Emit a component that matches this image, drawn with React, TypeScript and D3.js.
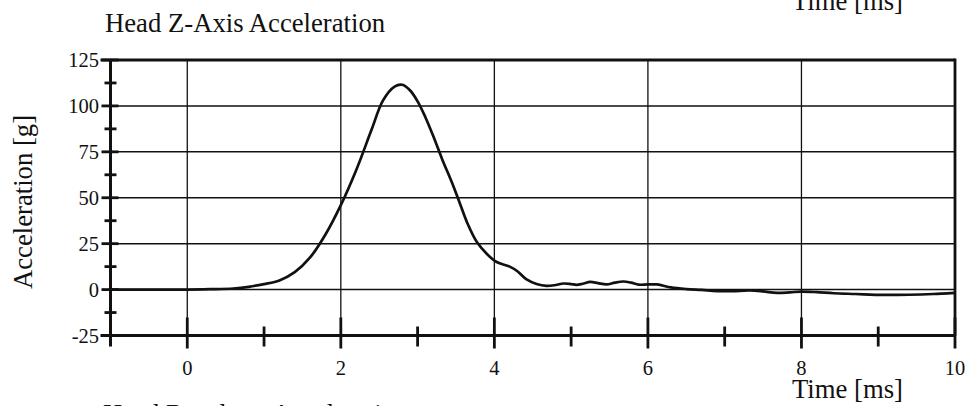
import React from "react";
import * as d3 from "d3";

const times = [-1, -0.5, 0, 0.3, 0.6, 0.8, 1.0, 1.2, 1.4, 1.6, 1.8, 2.0, 2.2, 2.4, 2.55, 2.7, 2.8, 2.9, 3.0, 3.1, 3.2, 3.32, 3.45, 3.55, 3.65, 3.77, 3.9, 4.03, 4.2, 4.3, 4.42, 4.55, 4.68, 4.8, 4.9, 5.0, 5.07, 5.15, 5.25, 5.35, 5.46, 5.57, 5.68, 5.78, 5.88, 6.0, 6.12, 6.3, 6.5, 6.7, 6.9, 7.1, 7.33, 7.5, 7.68, 7.85, 8.0, 8.2, 8.42, 8.7, 9.07, 9.4, 9.72, 10];
const accel = [0, 0, 0, 0.2, 0.6, 1.5, 3, 5, 9.5, 17.5, 30, 46, 65, 87, 103, 110.5, 111.5, 108.5, 102.5, 94, 84, 71, 58, 47, 36, 26, 19.5, 15, 12.5, 10, 5.5, 3, 2, 2.5, 3.3, 3, 2.6, 3.2, 4.2, 3.5, 2.8, 3.8, 4.4, 3.8, 2.7, 2.8, 2.8, 1.2, 0.3, -0.2, -0.8, -0.8, -0.5, -1, -1.8, -1.5, -1.1, -1.4, -2, -2.4, -2.9, -2.8, -2.4, -1.8];

const yTicks = [-25, 0, 25, 50, 75, 100, 125];
const yMinor = [-12.5, 12.5, 37.5, 62.5, 87.5, 112.5];
const yGrid = [0, 25, 50, 75, 100];
const xMajor = [0, 2, 4, 6, 8, 10];
const xMinor = [1, 3, 5, 7, 9];
const xGrid = [0, 2, 4, 6, 8];

const title = "Head Z-Axis Acceleration";
const yLabel = "Acceleration [g]";
const xLabel = "Time [ms]";
const nextTitle = "Head Resultant Acceleration";

const font = "Liberation Serif";

export default function App() {
  const x = d3.scaleLinear().domain([-1, 10]).range([110.5, 955]);
  const y = d3.scaleLinear().domain([-25, 125]).range([335.5, 60]);
  const pts = times.map((t, i) => [t, accel[i]] as [number, number]);
  const line = d3
    .line<[number, number]>()
    .x((d) => x(d[0]))
    .y((d) => y(d[1]))
    .curve(d3.curveCatmullRom.alpha(0.5));
  const ink = "#111";
  return (
    <svg
      width={965}
      height={406}
      style={{ position: "fixed", left: 0, top: 0, background: "#fff" }}
    >
      <rect x={0} y={0} width={965} height={406} fill="#fff" />
      {/* clipped x label from previous chart */}
      <text x={792} y={10} fontSize={26.7} fill={ink} fontFamily={font}>{xLabel}</text>
      <text x={105} y={32} fontSize={26.7} fill={ink} fontFamily={font}>{title}</text>

      {/* grid */}
      {yGrid.map((v) => (
        <line key={"hg" + v} x1={x(-1)} x2={x(10)} y1={y(v)} y2={y(v)} stroke={ink} strokeWidth={1.5} />
      ))}
      {xGrid.map((v) => (
        <line key={"vg" + v} x1={x(v)} x2={x(v)} y1={y(125)} y2={y(-25)} stroke={ink} strokeWidth={1.3} />
      ))}

      {/* frame */}
      <line x1={x(-1) - 10} x2={x(10)} y1={y(125)} y2={y(125)} stroke={ink} strokeWidth={2.8} />
      <line x1={x(10)} x2={x(10)} y1={y(125) - 1.4} y2={y(-25)} stroke={ink} strokeWidth={2.8} />
      <line x1={x(-1) - 10} x2={x(10)} y1={y(-25)} y2={y(-25)} stroke={ink} strokeWidth={3} />
      <line x1={x(-1)} x2={x(-1)} y1={y(125)} y2={y(-25) + 11} stroke={ink} strokeWidth={3} />

      {/* y ticks */}
      {yTicks.map((v) => (
        <g key={"yt" + v}>
          <line x1={x(-1) - 9} x2={x(-1) + 8} y1={y(v)} y2={y(v)} stroke={ink} strokeWidth={2.8} />
          <text x={99} y={y(v) + 7} fontSize={20.5} textAnchor="end" fill={ink} fontFamily={font}>{v}</text>
        </g>
      ))}
      {yMinor.map((v) => (
        <line key={"ym" + v} x1={x(-1) - 6} x2={x(-1) + 6} y1={y(v)} y2={y(v)} stroke={ink} strokeWidth={2.8} />
      ))}

      {/* x ticks */}
      {xMajor.map((v) => (
        <g key={"xt" + v}>
          <line x1={x(v)} x2={x(v)} y1={y(-25) - 18} y2={y(-25) + 13} stroke={ink} strokeWidth={2.8} />
          <text x={x(v)} y={375} fontSize={20.5} textAnchor="middle" fill={ink} fontFamily={font}>{v}</text>
        </g>
      ))}
      {xMinor.map((v) => (
        <line key={"xm" + v} x1={x(v)} x2={x(v)} y1={y(-25) - 9} y2={y(-25) + 11} stroke={ink} strokeWidth={2.8} />
      ))}

      {/* curve */}
      <path d={line(pts) || ""} fill="none" stroke={ink} strokeWidth={2.7} strokeLinejoin="round" />

      {/* axis labels */}
      <text
        transform={`translate(32, 202) rotate(-90)`}
        fontSize={26.7}
        textAnchor="middle"
        fill={ink}
        fontFamily={font}
      >
        {yLabel}
      </text>
      <text x={792} y={398} fontSize={26.7} fill={ink} fontFamily={font}>{xLabel}</text>

      {/* clipped next chart title */}
      <text x={103} y={423} fontSize={26.7} fill={ink} fontFamily={font}>{nextTitle}</text>
    </svg>
  );
}
